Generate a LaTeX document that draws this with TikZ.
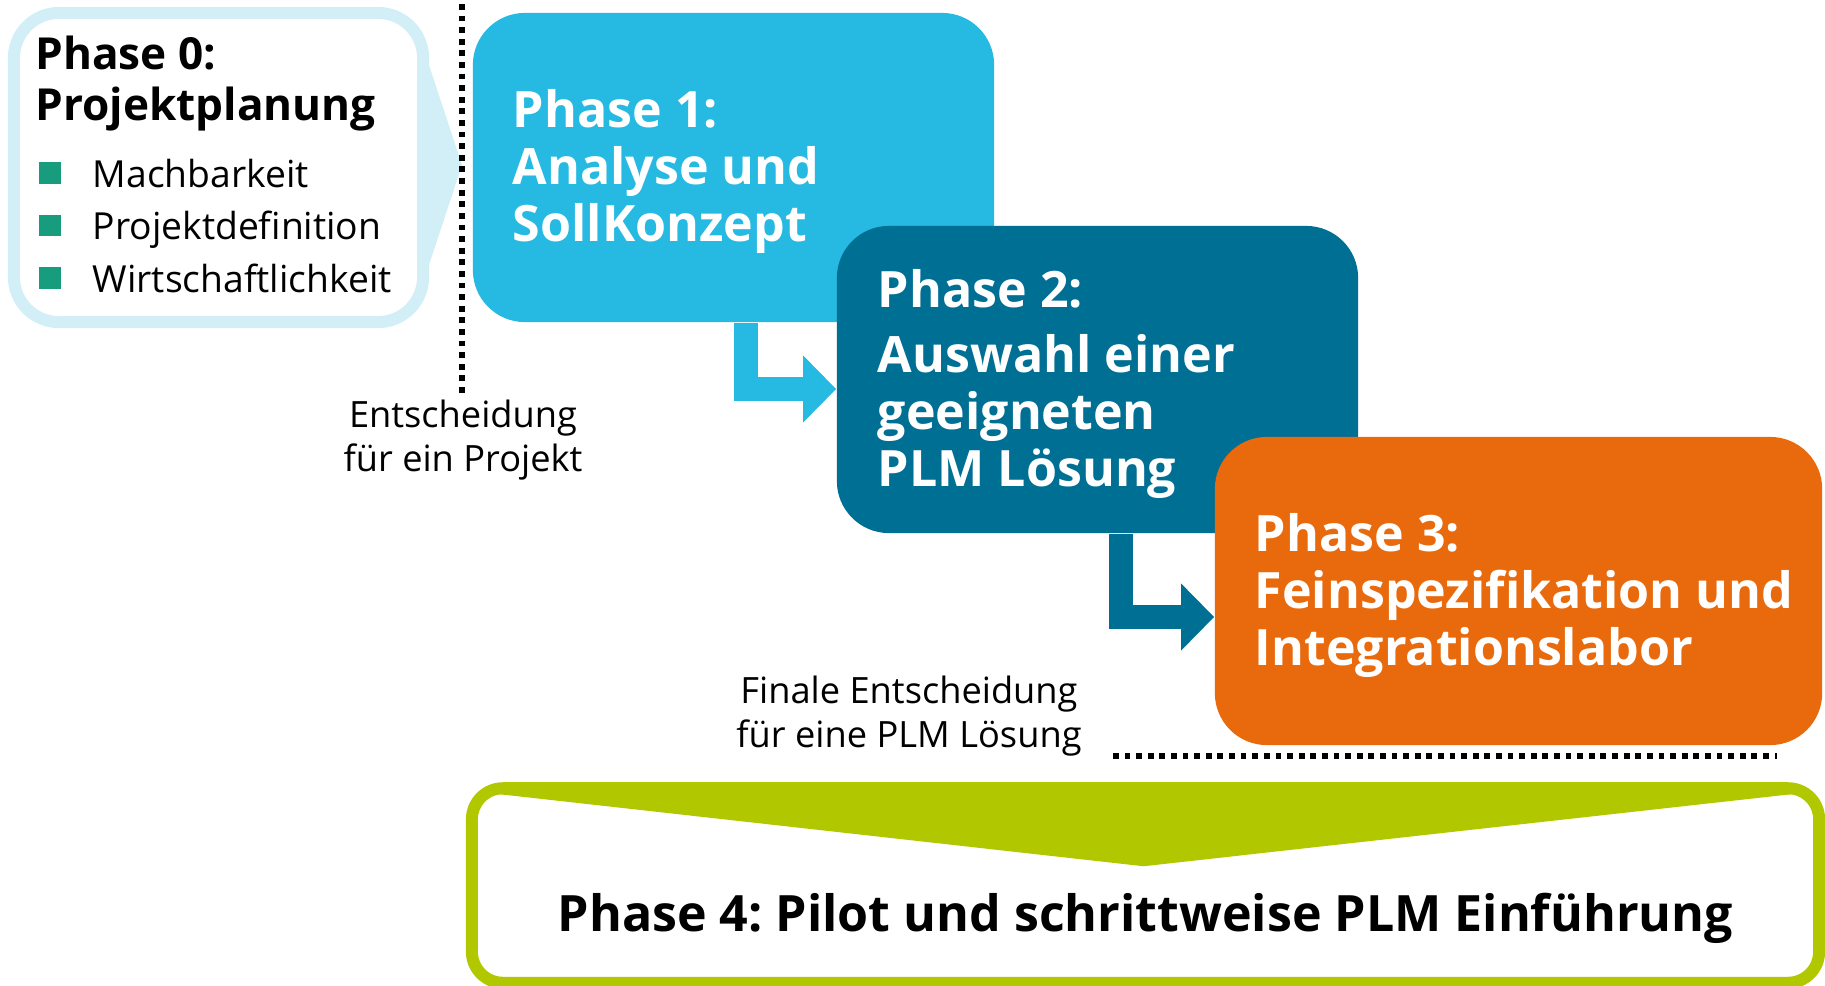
\documentclass[tikz,border=0pt]{standalone}
\usepackage{fontspec}
\setmainfont{Open Sans}[Ligatures=NoCommon]
\usetikzlibrary{positioning,calc,arrows.meta}

\definecolor{palecyan}{RGB}{210,238,247}
\definecolor{skyblue}{RGB}{38,185,226}
\definecolor{petrol}{RGB}{0,111,148}
\definecolor{signalorange}{RGB}{233,106,13}
\definecolor{limegreen}{RGB}{177,200,0}
\definecolor{bulletgreen}{RGB}{23,156,125}

\tikzset{
  phasebox/.style={rounded corners=0.52cm, inner sep=0pt},
  phasetext/.style={text=white, font=\fontsize{14.25pt}{16.2pt}\selectfont\bfseries, align=left, anchor=base west, inner sep=0pt},
  remark/.style={font=\fontsize{10.3pt}{12.3pt}\selectfont, align=center, anchor=base, inner sep=0pt},
  elbow/.style={line width=0.235cm, line join=miter, -{Triangle[length=0.33cm,width=0.65cm]}},
  dotline/.style={line width=0.055cm, dash pattern=on 0.058cm off 0.058cm},
  bulletsq/.style={fill=bulletgreen, minimum size=0.21cm, inner sep=0pt},
}

\begin{document}
\frenchspacing
\begin{tikzpicture}[x=0.01cm,y=-0.01cm]
\useasboundingbox (0,0) rectangle (1825,985);

% phase 0
\fill[palecyan] (425,53) -- (462,165) -- (425,277) -- cycle;
\node (p0) [phasebox, draw=palecyan, fill=white, line width=0.12cm, rounded corners=0.45cm, minimum width=4.09cm, minimum height=3.09cm] at (218.5,167.5) {};
\node (t0) [anchor=base west, align=left, inner sep=0pt, font=\fontsize{12.55pt}{14.5pt}\selectfont\bfseries] at ($(p0.north west)+(27,114)$) {Phase 0:\\Projektplanung};
\foreach \entry [count=\i] in {Machbarkeit,Projektdefinition,Wirtschaftlichkeit} {
  \node (b\i) [bulletsq] at (50,{173+52.5*(\i-1)}) {};
  \node (e\i) [anchor=base west, inner sep=0pt, font=\fontsize{10.6pt}{12pt}\selectfont] at (92,{187+52.5*(\i-1)}) {\entry};
}

% decision 1
\node (d1) [remark] at (463,471) {Entscheidung\\für ein Projekt};
\coordinate (v0) at (462,4);
\coordinate (v1) at (462,395);
\draw[dotline] (v0) -- (v1);

% phase 1 and 2
\node (p1) [phasebox, fill=skyblue, minimum width=5.21cm, minimum height=3.09cm] at (733.5,167.5) {};
\node (t1) [phasetext] at ($(p1.north west)+(40,229)$) {Phase 1:\\Analyse und\\SollKonzept};
\node (p2) [phasebox, fill=petrol, minimum width=5.21cm, minimum height=3.07cm] at (1097.5,379.5) {};
\node (t2) [phasetext] at ($(p2.north west)+(41,261)$) {Phase 2:\\[2.3pt]Auswahl einer\\geeigneten\\PLM Lösung};
\draw[elbow, skyblue] ($(p1.south west)+(274,0)$) |- ([yshift=-0.095cm]p2.west);

% phase 3
\node (p3) [phasebox, fill=signalorange, minimum width=6.07cm, minimum height=3.08cm] at (1518.5,591) {};
\node (t3) [phasetext] at ($(p3.north west)+(40,229)$) {Phase 3:\\Feinspezifikation und\\Integrationslabor};
\draw[elbow, petrol] ($(p2.south west)+(285,0)$) |- ([yshift=-0.26cm]p3.west);

% decision 2
\node (d2) [remark] at (909,747) {Finale Entscheidung\\für eine PLM Lösung};
\coordinate (h0) at (1113,756);
\coordinate (h1) at (1777,756);
\draw[dotline] (h0) -- (h1);

% phase 4
\node (p4) [phasebox, fill=white, rounded corners=0.31cm, minimum width=13.45cm, minimum height=1.93cm] at (1145.5,885.5) {};
\coordinate (apex) at ($(p4.north)+(-2,78)$);
\fill[limegreen] ($(p4.north west)+(10,4)$) -- (apex) -- ($(p4.north east)+(-10,4)$) -- cycle;
\draw[limegreen, line width=0.12cm, rounded corners=0.31cm] (p4.north west) rectangle (p4.south east);
\node (t4) [anchor=base, inner sep=0pt, font=\fontsize{14.25pt}{16pt}\selectfont\bfseries] at ($(p4.south)+(0,-51)$) {Phase 4: Pilot und schrittweise PLM Einführung};
\end{tikzpicture}
\end{document}
